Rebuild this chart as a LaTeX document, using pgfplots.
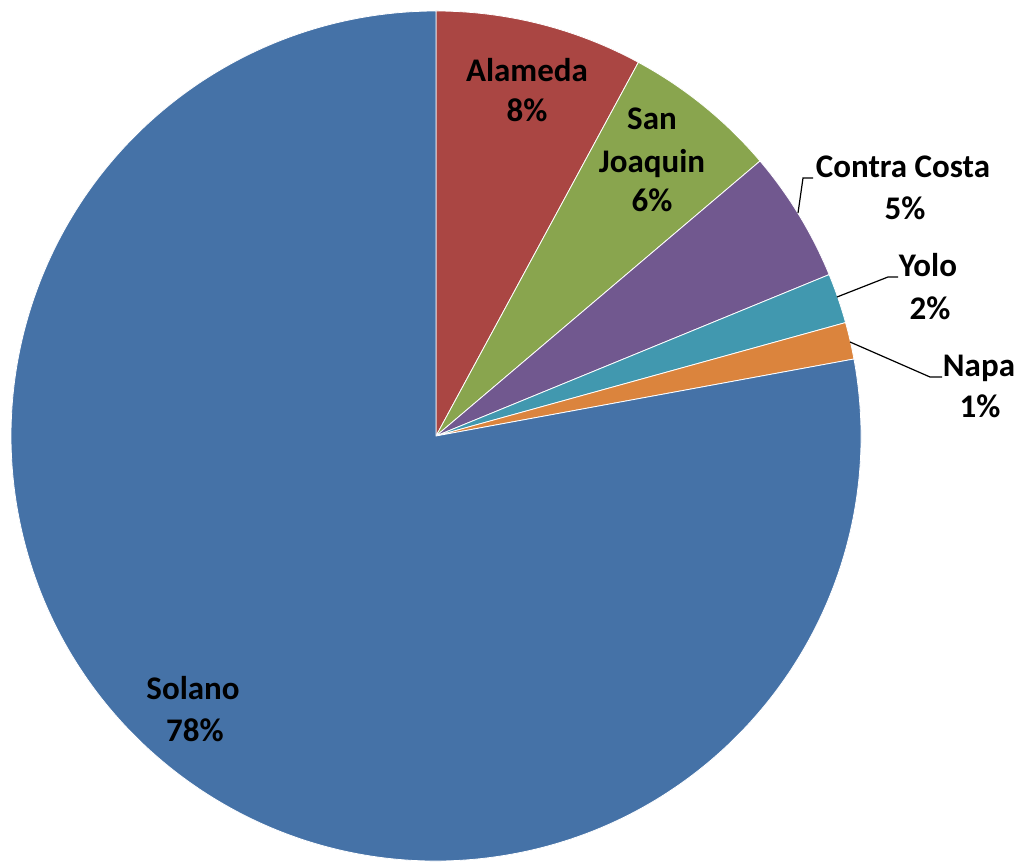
\documentclass[border=0pt]{standalone}
\usepackage{pgfplots}
\pgfplotsset{compat=1.18}
\usepackage{pgfplotstable}
\usepackage{fontspec}
\setmainfont{Carlito}
\definecolor{cSol}{HTML}{4572A7}
\definecolor{cAla}{HTML}{AA4643}
\definecolor{cSJ}{HTML}{89A54E}
\definecolor{cCC}{HTML}{71588F}
\definecolor{cYol}{HTML}{4198AF}
\definecolor{cNap}{HTML}{DB843D}
\pgfplotstableread{
name value
Alameda 7.9
SanJoaquin 5.9
ContraCosta 5.0
Yolo 1.9
Napa 1.4
Solano 77.9
}\piedata
\pgfplotstablegetelem{0}{value}\of\piedata \let\vA\pgfplotsretval
\pgfplotstablegetelem{1}{value}\of\piedata \let\vB\pgfplotsretval
\pgfplotstablegetelem{2}{value}\of\piedata \let\vC\pgfplotsretval
\pgfplotstablegetelem{3}{value}\of\piedata \let\vD\pgfplotsretval
\pgfplotstablegetelem{4}{value}\of\piedata \let\vE\pgfplotsretval
\pgfplotstablegetelem{5}{value}\of\piedata \let\vF\pgfplotsretval
\pgfmathsetmacro\aO{90}
\pgfmathsetmacro\aA{\aO-3.6*\vA}
\pgfmathsetmacro\aB{\aA-3.6*\vB}
\pgfmathsetmacro\aC{\aB-3.6*\vC}
\pgfmathsetmacro\aD{\aC-3.6*\vD}
\pgfmathsetmacro\aE{\aD-3.6*\vE}
\pgfmathsetmacro\aF{\aE-3.6*\vF}
\def\R{212.5pt}
\begin{document}
\begin{tikzpicture}
\begin{axis}[hide axis, scale only axis, width=509.5pt, height=431pt,
  xmin=0, xmax=1019, ymin=0, ymax=862, clip=false]
\tikzset{sl/.style={draw=white, line width=0.4pt}}
\filldraw[sl, fill=cAla] (axis cs:436,426) -- ++(\aO:\R) arc[start angle=\aO, end angle=\aA, radius=\R] -- cycle;
\filldraw[sl, fill=cSJ] (axis cs:436,426) -- ++(\aA:\R) arc[start angle=\aA, end angle=\aB, radius=\R] -- cycle;
\filldraw[sl, fill=cCC] (axis cs:436,426) -- ++(\aB:\R) arc[start angle=\aB, end angle=\aC, radius=\R] -- cycle;
\filldraw[sl, fill=cYol] (axis cs:436,426) -- ++(\aC:\R) arc[start angle=\aC, end angle=\aD, radius=\R] -- cycle;
\filldraw[sl, fill=cNap] (axis cs:436,426) -- ++(\aD:\R) arc[start angle=\aD, end angle=\aE, radius=\R] -- cycle;
\filldraw[sl, fill=cSol] (axis cs:436,426) -- ++(\aE:\R) arc[start angle=\aE, end angle=\aF, radius=\R] -- cycle;
% leader lines
\draw[black, line width=0.6pt] (axis cs:813,684) -- (axis cs:803,684) -- (axis cs:798,649);
\draw[black, line width=0.6pt] (axis cs:898,585) -- (axis cs:888,585) -- (axis cs:837,565);
\draw[black, line width=0.6pt] (axis cs:942,485) -- (axis cs:930,485) -- (axis cs:850,520);
\tikzset{lb/.style={anchor=base, font=\fontsize{16.5}{20}\selectfont\bfseries, text=black, inner sep=0pt}}
\node[lb] at (axis cs:527,780) {Alameda};
\node[lb] at (axis cs:527,740) {8\%};
\node[lb] at (axis cs:652,732) {San};
\node[lb] at (axis cs:652,689) {Joaquin};
\node[lb] at (axis cs:652,650) {6\%};
\node[lb] at (axis cs:903,684) {Contra Costa};
\node[lb] at (axis cs:905,642) {5\%};
\node[lb] at (axis cs:928,585) {Yolo};
\node[lb] at (axis cs:930,542) {2\%};
\node[lb] at (axis cs:979,485) {Napa};
\node[lb] at (axis cs:980,444) {1\%};
\node[lb] at (axis cs:193,162) {Solano};
\node[lb] at (axis cs:195,120) {78\%};
\end{axis}
\pgfresetboundingbox
\path (current axis.south west) rectangle (current axis.north east);
\end{tikzpicture}
\end{document}
